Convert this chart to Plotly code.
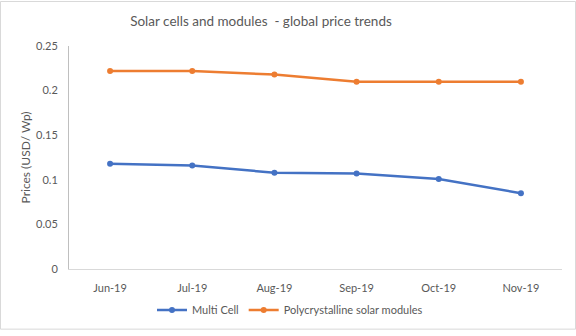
import plotly.graph_objects as go

months = ["Jun-19", "Jul-19", "Aug-19", "Sep-19", "Oct-19", "Nov-19"]
multi_cell = [0.118, 0.116, 0.108, 0.107, 0.101, 0.085]
poly_modules = [0.222, 0.222, 0.218, 0.210, 0.210, 0.210]

FONT = "Lato"
GRAY = "#595959"

fig = go.Figure()
fig.add_trace(go.Scatter(x=months, y=multi_cell, name="Multi Cell", mode="lines+markers",
                         line=dict(color="#4472C4", width=2.5), marker=dict(size=6)))
fig.add_trace(go.Scatter(x=months, y=poly_modules, name="Polycrystalline solar modules",
                         mode="lines+markers",
                         line=dict(color="#ED7D31", width=2.5), marker=dict(size=6)))

L, R, T, B = 69, 14, 46, 62
W, H = 576, 336
pw, ph = W - L - R, H - T - B

fig.update_layout(
    width=W, height=H,
    margin=dict(l=L, r=R, t=T, b=B),
    paper_bgcolor="white", plot_bgcolor="white",
    font=dict(family=FONT, size=11, color=GRAY),
    title=dict(text="Solar cells and modules  - global price trends", x=(261 - L) / pw,
               xref="paper", xanchor="center",
               y=1 - 21 / H, yanchor="middle", font=dict(size=13.5, color=GRAY)),
    xaxis=dict(type="category", range=[-0.5, 5.5], showgrid=False, showline=True,
               linecolor="#d9d9d9", linewidth=1, ticks="", tickfont=dict(size=11, color=GRAY),
               ticklabelstandoff=9, zeroline=False),
    yaxis=dict(range=[0, 0.25], dtick=0.05, showgrid=False, showline=True,
               linecolor="#bfbfbf", linewidth=1, ticks="", zeroline=False,
               tickfont=dict(size=11, color=GRAY), ticklabelstandoff=8,
               title=dict(text="Prices (USD/ Wp)", font=dict(size=12, color=GRAY), standoff=2)),
    legend=dict(orientation="h", x=(290 - L) / pw, xanchor="center", y=-(316 - 274) / ph,
                yanchor="middle", font=dict(size=11, color=GRAY)),
    showlegend=True,
    shapes=[dict(type="rect", xref="paper", yref="paper",
                 x0=-(L - 0.5) / pw, x1=1 + (R - 0.5) / pw,
                 y0=-(B - 0.5) / ph, y1=1 + (T - 0.5) / ph,
                 line=dict(color="#d9d9d9", width=1), fillcolor="rgba(0,0,0,0)")],
)

fig.write_html("out.html")
